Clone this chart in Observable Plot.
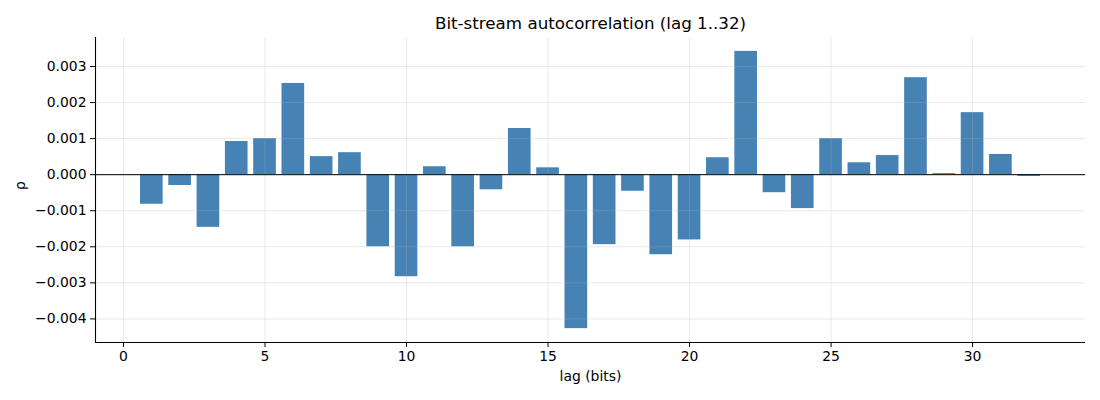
<!DOCTYPE html>
<html>
<head>
<meta charset="utf-8">
<script src="https://cdn.jsdelivr.net/npm/d3@7"></script>
<script src="https://cdn.jsdelivr.net/npm/@observablehq/plot@0.6"></script>
<style>
  html, body { margin: 0; padding: 0; background: #fff; }
</style>
</head>
<body>
<div id="chart"></div>
<script>
const lags = [1,2,3,4,5,6,7,8,9,10,11,12,13,14,15,16,17,18,19,20,21,22,23,24,25,26,27,28,29,30,31,32];
const rho = [-0.00082,-0.00030,-0.00146,0.00092,0.00100,0.00253,0.00050,0.00061,-0.00200,-0.00283,0.00022,-0.00200,-0.00042,0.00128,0.00019,-0.00427,-0.00194,-0.00046,-0.00222,-0.00181,0.00047,0.00342,-0.00050,-0.00094,0.00100,0.00033,0.00053,0.00269,0.00003,0.00172,0.00056,-0.00005];
const xTicks = [0,5,10,15,20,25,30];
const yTicks = [-0.004,-0.003,-0.002,-0.001,0,0.001,0.002,0.003];
const title = "Bit-stream autocorrelation (lag 1..32)";
const xLabel = "lag (bits)";
const yLabel = "ρ";

const data = lags.map((lag, i) => ({lag, rho: rho[i]}));
const barHalf = 0.4;
const xDomain = [0.6 - 0.05 * 31.8, 32.4 + 0.05 * 31.8];
const yMin = d3.min(rho), yMax = d3.max(rho), yPad = 0.05 * (yMax - yMin);
const yDomain = [yMin - yPad, yMax + yPad];
const fmt = d3.format(".3f");

const chart = Plot.plot({
  width: 1100,
  height: 400,
  marginLeft: 95,
  marginRight: 15,
  marginTop: 37,
  marginBottom: 58,
  style: {fontFamily: "DejaVu Sans", fontSize: "13.9px", color: "#000", background: "#fff"},
  x: {domain: xDomain},
  y: {domain: yDomain},
  marks: [
    Plot.rectY(data, {x1: d => d.lag - barHalf, x2: d => d.lag + barHalf, y: "rho", fill: "#4682b4"}),
    Plot.gridX(xTicks, {stroke: "#b0b0b0", strokeOpacity: 0.35, strokeWidth: 0.8}),
    Plot.gridY(yTicks, {stroke: "#b0b0b0", strokeOpacity: 0.35, strokeWidth: 0.8}),
    Plot.ruleY([0], {stroke: "#000", strokeWidth: 1}),
    Plot.axisX(xTicks, {tickSize: 5, tickPadding: 4, fontSize: 13.9, label: null, tickFormat: d => String(d), stroke: "#000"}),
    Plot.axisY(yTicks, {tickSize: 5, tickPadding: 4, fontSize: 13.9, label: null, tickFormat: fmt, stroke: "#000"}),
    Plot.ruleX([xDomain[0]], {stroke: "#000", strokeWidth: 1.1}),
    Plot.ruleY([yDomain[0]], {stroke: "#000", strokeWidth: 1.1}),
    Plot.text([title], {frameAnchor: "top", dy: -20, fontSize: 16.7, fill: "#000"}),
    Plot.text([xLabel], {frameAnchor: "bottom", dy: 38, fontSize: 13.9, fill: "#000"}),
    Plot.text([yLabel], {frameAnchor: "left", dx: -75, rotate: -90, fontSize: 13.9, fill: "#000"})
  ]
});
document.getElementById("chart").appendChild(chart);
</script>
</body>
</html>
